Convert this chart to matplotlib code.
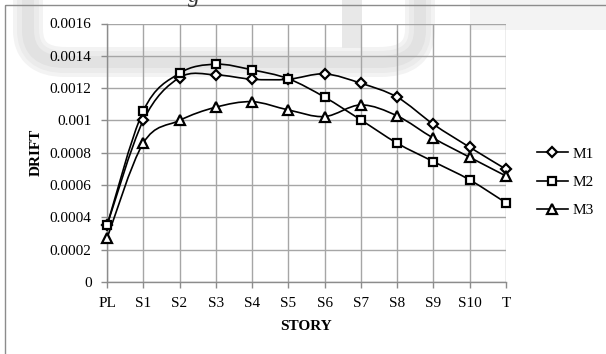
import matplotlib
matplotlib.use("Agg")
import matplotlib.pyplot as plt
import matplotlib.path as mpath
import matplotlib.patches as mpatches
import matplotlib.transforms as mtrans
import numpy as np

plt.rcParams["font.family"] = ["Liberation Serif", "DejaVu Serif"]

# data
stories = ["PL", "S1", "S2", "S3", "S4", "S5", "S6", "S7", "S8", "S9", "S10", "T"]
m1 = [0.00035, 0.00100, 0.001265, 0.001282, 0.001255, 0.001255, 0.001288,
      0.00123, 0.001144, 0.000976, 0.000834, 0.000698]
m2 = [0.00035, 0.001059, 0.001292, 0.001348, 0.001313, 0.001258, 0.001144,
      0.001003, 0.000859, 0.000745, 0.000632, 0.00049]
m3 = [0.00027, 0.00086, 0.00100, 0.001082, 0.001116, 0.001065, 0.001024,
      0.001096, 0.001028, 0.00089, 0.000772, 0.000656]
y_ticks = [0, 0.0002, 0.0004, 0.0006, 0.0008, 0.001, 0.0012, 0.0014, 0.0016]
y_tick_labels = ["0", "0.0002", "0.0004", "0.0006", "0.0008", "0.001",
                 "0.0012", "0.0014", "0.0016"]

W, H = 606, 354


def smooth_path(xs, ys):
    # Excel-like smoothed line: Catmull-Rom turned into cubic Beziers
    pts = np.column_stack([xs, ys]).astype(float)
    n = len(pts)
    verts = [pts[0]]
    codes = [mpath.Path.MOVETO]
    for i in range(n - 1):
        p0 = pts[i - 1] if i > 0 else pts[i]
        p1 = pts[i]
        p2 = pts[i + 1]
        p3 = pts[i + 2] if i + 2 < n else pts[i + 1]
        c1 = p1 + (p2 - p0) / 6.0
        c2 = p2 - (p3 - p1) / 6.0
        verts += [c1, c2, p2]
        codes += [mpath.Path.CURVE4] * 3
    return mpath.Path(verts, codes)


fig = plt.figure(figsize=(W / 100, H / 100), dpi=100)
fig.patch.set_facecolor("white")

# pixel coords (origin top-left) -> figure
px = mtrans.Affine2D().scale(1 / W, -1 / H).translate(0, 1) + fig.transFigure

# faint page watermark behind the chart
P = mpath.Path
wm = P([(28, -20), (28, 30), (28, 62), (65, 62), (380, 62),
        (420, 62), (420, 30), (420, -20)],
       [P.MOVETO, P.LINETO, P.CURVE3, P.CURVE3, P.LINETO,
        P.CURVE3, P.CURVE3, P.LINETO])
for lw, col in [(30, "#f3f3f3"), (22, "#ebebeb"), (12, "#e2e2e2")]:
    fig.patches.append(mpatches.PathPatch(wm, transform=px, fill=False,
                                          edgecolor=col, linewidth=lw * 0.72,
                                          capstyle="round", joinstyle="round",
                                          zorder=0))
fig.patches.append(mpatches.Rectangle((342, -10), 20, 58, transform=px,
                                      facecolor="#e8e8e8", edgecolor="none",
                                      zorder=0))
fig.patches.append(mpatches.Rectangle((470, -10), 140, 40, transform=px,
                                      facecolor="#f3f3f3", edgecolor="none",
                                      zorder=0))
fig.text(188 / W, 1 + 4 / H, "g", fontsize=17, fontstyle="italic",
         color="#333333", ha="left", va="center")

# outer frame of the chart box (left and top edges visible)
fig.patches.append(mpatches.Rectangle((5, 5), 700, 400, transform=px,
                                      fill=False, edgecolor="#8c8c8c",
                                      linewidth=1.0, zorder=1))

ax = fig.add_axes([107 / W, 1 - 282 / H, (506 - 107) / W, (282 - 23.5) / H])
ax.set_zorder(2)
ax.patch.set_alpha(0)
x = np.arange(len(stories))

ax.set_xlim(0, len(stories) - 1)
ax.set_ylim(0, 0.0016)

ax.set_xticks(x)
ax.set_xticklabels(stories)
ax.set_yticks(y_ticks)
ax.set_yticklabels(y_tick_labels)

ax.grid(True, color="#a6a6a6", linewidth=1.0)
ax.set_axisbelow(True)
for side in ["top", "right"]:
    ax.spines[side].set_visible(False)
for side in ["left", "bottom"]:
    ax.spines[side].set_color("#8c8c8c")
    ax.spines[side].set_linewidth(1.0)

ax.tick_params(axis="both", direction="out", length=4, width=1.0,
               color="#8c8c8c", labelsize=11, labelcolor="black")
ax.tick_params(axis="y", pad=7)
ax.tick_params(axis="x", pad=7)

ax.set_xlabel("STORY", fontsize=11, fontweight="bold", labelpad=7)
ax.set_ylabel("DRIFT", fontsize=11, fontweight="bold", labelpad=5)

series = [("M1", m1, "D", 5.5), ("M2", m2, "s", 6), ("M3", m3, "^", 6.5)]
handles = []
for name, vals, marker, ms in series:
    ax.add_patch(mpatches.PathPatch(smooth_path(x, vals), fill=False,
                                    edgecolor="black", linewidth=1.2, zorder=3))
    ax.plot(x, vals, linestyle="none", marker=marker, markersize=ms,
            markerfacecolor="white", markeredgecolor="black",
            markeredgewidth=1.6, zorder=4, clip_on=False)
    h, = ax.plot([], [], color="black", linewidth=1.2, marker=marker,
                 markersize=ms, markerfacecolor="white",
                 markeredgecolor="black", markeredgewidth=1.6, label=name)
    handles.append(h)

fig.legend(handles=handles, loc="center left",
           bbox_to_anchor=(537 / W, 1 - 182 / H),
           frameon=False, fontsize=11, handlelength=2.0,
           handletextpad=0.3, labelspacing=0.95, borderpad=0,
           borderaxespad=0)

fig.savefig("out.png", dpi=100)
